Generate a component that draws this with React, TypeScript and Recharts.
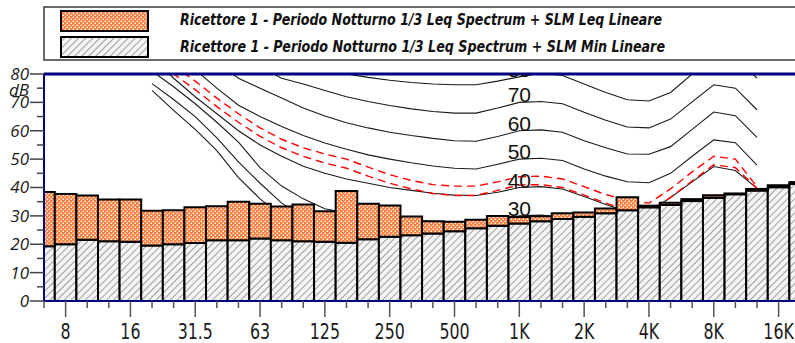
import React from 'react';
import { ComposedChart, Bar, Line, XAxis, YAxis, ReferenceLine } from 'recharts';

// 1/3 octave bands, 6.3 Hz .. 20 kHz
const bands = ['6.3', '8', '10', '12.5', '16', '20', '25', '31.5', '40', '50', '63', '80', '100', '125', '160', '200', '250', '315', '400', '500', '630', '800', '1K', '1.25K', '1.6K', '2K', '2.5K', '3.15K', '4K', '5K', '6.3K', '8K', '10K', '12.5K', '16K', '20K'];

const leqValues = [38.4, 37.7, 37.2, 35.8, 35.8, 31.8, 32.0, 33.0, 33.4, 35.0, 34.3, 33.3, 34.0, 31.6, 38.8, 34.3, 33.7, 29.8, 28.1, 27.9, 28.6, 30.0, 29.6, 29.9, 30.9, 31.2, 32.6, 36.6, 33.6, 34.6, 35.9, 37.3, 37.9, 39.5, 40.8, 41.9];
const minValues = [19.3, 20.0, 21.6, 21.1, 20.9, 19.6, 20.0, 20.4, 21.4, 21.4, 22.0, 21.4, 21.1, 20.9, 20.5, 21.8, 22.6, 23.2, 23.8, 24.6, 25.6, 26.5, 27.3, 28.1, 28.9, 29.7, 30.9, 32.0, 33.0, 33.8, 35.2, 36.4, 37.6, 38.9, 40.1, 41.3];

const legendLabels = [
  'Ricettore 1 - Periodo Notturno 1/3 Leq Spectrum + SLM Leq Lineare',
  'Ricettore 1 - Periodo Notturno 1/3 Leq Spectrum + SLM Min Lineare',
];

const xTickLabels = ['8', '16', '31.5', '63', '125', '250', '500', '1K', '2K', '4K', '8K', '16K'];
const yTicks = [0, 5, 10, 15, 20, 25, 30, 35, 40, 45, 50, 55, 60, 65, 70, 75, 80];
const yTickLabels = ['0', '', '10', '', '20', '', '30', '', '40', '', '50', '', '60', '', '70', 'dB', '80'];

// isophone curves, 20 Hz .. 12.5 kHz
const curveFirstBand = '20';
const phon10 = [74.2, 67.2, 60.5, 53.0, 43.5, 36.0, 30.0, 24.5, 20.0, 16.5, 14.0, 12.5, 11.5, 10.5, 10.0, 9.5, 9.5, 10.0, 10.3, 9.5, 6.7, 3.8, 1.2, 1.0, 4.0, 8.0, 12.0, 11.0, 7.5];
const phon20 = [76.6, 71.0, 65.0, 57.5, 49.0, 41.5, 34.5, 30.0, 27.0, 25.0, 23.8, 22.8, 22.0, 21.2, 20.6, 20.2, 19.8, 20.0, 20.3, 19.5, 16.7, 13.8, 11.0, 10.8, 14.0, 18.0, 22.0, 21.0, 17.5];
const phon30 = [81.0, 75.5, 69.5, 63.0, 56.0, 47.0, 40.5, 36.0, 32.5, 31.0, 30.0, 29.2, 28.6, 28.0, 27.6, 27.5, 28.3, 30.0, 30.3, 29.5, 26.8, 24.0, 21.3, 21.0, 24.5, 31.0, 37.2, 36.0, 28.0];
const phon40 = [86.0, 78.5, 72.0, 66.0, 60.0, 55.0, 51.0, 47.5, 45.0, 43.0, 41.5, 40.0, 39.0, 38.0, 37.3, 37.2, 38.3, 40.0, 40.3, 39.5, 36.8, 34.0, 31.5, 31.5, 36.5, 42.0, 47.4, 46.0, 39.7];
const phon50 = [92.0, 87.0, 81.5, 75.0, 69.0, 65.0, 61.5, 58.3, 55.7, 53.5, 51.5, 50.0, 48.7, 47.6, 46.8, 46.5, 48.2, 50.0, 50.3, 49.5, 46.5, 44.0, 42.0, 41.7, 45.0, 51.0, 56.8, 55.8, 47.9];
const phon60 = [100.0, 95.0, 90.0, 84.0, 78.5, 75.0, 71.5, 68.0, 65.2, 62.8, 61.0, 59.5, 58.3, 57.3, 56.5, 56.3, 58.0, 60.0, 60.3, 59.5, 56.5, 54.0, 51.8, 51.7, 54.4, 60.5, 66.6, 65.3, 57.7];
const phon70 = [108.0, 103.0, 98.0, 93.0, 88.0, 82.5, 78.5, 76.5, 74.2, 72.0, 70.3, 68.9, 67.7, 66.8, 66.2, 66.2, 68.0, 70.0, 70.3, 69.5, 66.5, 63.7, 61.3, 61.0, 64.1, 70.2, 76.2, 75.0, 67.4];
const phon80 = [116.0, 111.0, 106.0, 101.0, 96.0, 91.0, 87.0, 84.0, 82.0, 80.0, 78.8, 77.8, 77.0, 76.5, 76.2, 76.2, 77.5, 79.0, 80.3, 79.5, 76.5, 73.5, 70.9, 70.5, 73.5, 80.0, 86.0, 85.0, 78.6];
const limitUpper = [89.0, 83.0, 77.5, 71.5, 66.0, 61.0, 57.0, 54.0, 51.8, 50.0, 47.2, 44.5, 42.5, 41.0, 40.5, 40.5, 42.0, 43.8, 44.0, 43.0, 40.3, 37.5, 35.5, 34.5, 39.5, 45.5, 51.0, 50.0, 40.3];
const limitLower = [86.0, 80.0, 74.5, 68.5, 63.0, 58.0, 54.0, 51.0, 48.6, 46.8, 44.0, 41.5, 39.5, 37.9, 37.2, 37.2, 39.0, 40.9, 41.0, 40.0, 37.3, 34.5, 32.0, 31.8, 36.5, 42.3, 48.0, 47.0, 39.7];

const curves = [
  { key: 'p10', values: phon10, label: '', dashed: false },
  { key: 'p20', values: phon20, label: '', dashed: false },
  { key: 'p30', values: phon30, label: '30', dashed: false },
  { key: 'p40', values: phon40, label: '40', dashed: false },
  { key: 'p50', values: phon50, label: '50', dashed: false },
  { key: 'p60', values: phon60, label: '60', dashed: false },
  { key: 'p70', values: phon70, label: '70', dashed: false },
  { key: 'p80', values: phon80, label: '80', dashed: false },
  { key: 'lu', values: limitUpper, label: '', dashed: true },
  { key: 'll', values: limitLower, label: '', dashed: true },
];

const first = bands.indexOf(curveFirstBand);
const labelIndex = bands.indexOf('1K');

const rows = bands.map((band, i) => {
  const row: any = {
    x: i,
    band,
    min: minValues[i],
    extra: Math.round((leqValues[i] - minValues[i]) * 10) / 10,
  };
  curves.forEach((c) => {
    const k = i - first;
    row[c.key] = k >= 0 && k < c.values.length ? c.values[k] : null;
  });
  return row;
});

const narrow = "'DejaVu Sans Condensed', 'DejaVu Sans', sans-serif";

const XTick = (props: any) => {
  const { x, y, payload } = props;
  const name = bands[payload.value];
  const major = xTickLabels.includes(name);
  return (
    <g>
      <line x1={x} x2={x} y1={y} y2={y + (major ? 16 : 7)} stroke="#555" strokeWidth={1.5} />
      {major && (
        <text
          transform={`translate(${x},${y + 37.5}) scale(0.8,1)`}
          textAnchor="middle"
          fontFamily={narrow}
          fontSize={22}
          fill="#1a1a1a"
        >
          {name}
        </text>
      )}
    </g>
  );
};

const YTick = (props: any) => {
  const { x, y, payload } = props;
  const v = payload.value;
  const label = yTickLabels[yTicks.indexOf(v)];
  const major = v % 10 === 0;
  return (
    <g>
      <line x1={x - (major ? 14 : 7)} x2={x} y1={y} y2={y} stroke="#444" strokeWidth={1.5} />
      {label && (
        <text
          x={x - 15}
          y={y + (v === 75 ? 1.5 : 0)}
          dy="0.35em"
          textAnchor="end"
          fontFamily="'Open Sans', sans-serif"
          fontStyle="italic"
          fontSize={17}
          fill="#1a1a1a"
        >
          {label}
        </text>
      )}
    </g>
  );
};

const labelDot = (text: string) => (props: any) => {
  const { cx, cy, index } = props;
  if (!text || index !== labelIndex || cx == null || cy == null) return <g key={`d${index}`} />;
  return (
    <text key={`l${index}`} x={cx} y={cy} textAnchor="middle" clipPath="url(#plotArea)" fontFamily="'Liberation Sans', Arial, sans-serif" fontSize={21} fill="#111">
      {text}
    </text>
  );
};

const Legend = () => (
  <svg width={795} height={66} style={{ position: 'absolute', left: 0, top: 0 }}>
    <rect x={44} y={7} width={800} height={53} fill="none" stroke="#3a3a3a" strokeWidth={1.5} />
    <rect x={61} y={11} width={87} height={20} fill="url(#orangeCheck)" stroke="#000" strokeWidth={2} />
    <rect x={61} y={37} width={87} height={20} fill="url(#grayHatch)" stroke="#000" strokeWidth={2} />
    {legendLabels.map((t, i) => (
      <text
        key={t}
        x={180}
        y={25 + i * 26.5}
        textLength={i === 0 ? 482 : 485}
        lengthAdjust="spacingAndGlyphs"
        fontFamily={narrow}
        fontStyle="italic"
        fontWeight="bold"
        fontSize={15}
        fill="#111"
      >
        {t}
      </text>
    ))}
  </svg>
);

export default function App() {
  return (
    <div style={{ position: 'absolute', left: 0, top: 0, width: 795, height: 343, overflow: 'hidden', background: '#fff' }}>
      <svg width={0} height={0} style={{ position: 'absolute' }}>
        <defs>
          <pattern id="orangeCheck" patternUnits="userSpaceOnUse" width={4} height={4}>
            <rect width={4} height={4} fill="#FF8040" />
            <rect x={0.6} y={0.6} width={1.4} height={1.4} fill="#fff" />
            <rect x={2.6} y={2.6} width={1.4} height={1.4} fill="#fff" />
          </pattern>
          <pattern id="grayHatch" patternUnits="userSpaceOnUse" width={5} height={5} patternTransform="rotate(45)">
            <rect width={5} height={5} fill="#F4F4F4" />
            <line x1={2.5} y1={0} x2={2.5} y2={5} stroke="#A0A0A0" strokeWidth={1} />
          </pattern>
          <clipPath id="plotArea">
            <rect x={44} y={74} width={767} height={227} />
          </clipPath>
        </defs>
      </svg>
      <ComposedChart width={811} height={343} data={rows} margin={{ top: 74, right: 0, bottom: 0, left: 0 }}>
        <XAxis
          dataKey="x"
          type="number"
          domain={[0, 35.5]}
          ticks={bands.map((_, i) => i)}
          interval={0}
          allowDataOverflow
          height={42}
          tickSize={0}
          tickMargin={0}
          tickLine={false}
          tick={<XTick />}
          axisLine={{ stroke: '#000080', strokeWidth: 2 }}
        />
        <YAxis
          type="number"
          domain={[0, 80]}
          ticks={yTicks}
          interval={0}
          allowDataOverflow
          width={44}
          tickSize={0}
          tickMargin={0}
          tickLine={false}
          tick={<YTick />}
          axisLine={{ stroke: '#000080', strokeWidth: 2 }}
        />
        {curves.map((c) => (
          <Line
            key={c.key}
            dataKey={c.key}
            type="linear"
            stroke={c.dashed ? '#FF0000' : '#1a1a1a'}
            strokeWidth={c.dashed ? 1.4 : 1.1}
            strokeDasharray={c.dashed ? '8 5' : undefined}
            dot={labelDot(c.label)}
            activeDot={false}
            connectNulls={false}
            isAnimationActive={false}
            zIndex={150}
          />
        ))}
        <Bar dataKey="min" stackId="s" fill="url(#grayHatch)" stroke="#000" strokeWidth={2} barSize={21.6} isAnimationActive={false} />
        <Bar dataKey="extra" stackId="s" fill="url(#orangeCheck)" stroke="#000" strokeWidth={2} barSize={21.6} isAnimationActive={false} />
        <ReferenceLine y={80} stroke="#000080" strokeWidth={3} />
      </ComposedChart>
      <Legend />
    </div>
  );
}
